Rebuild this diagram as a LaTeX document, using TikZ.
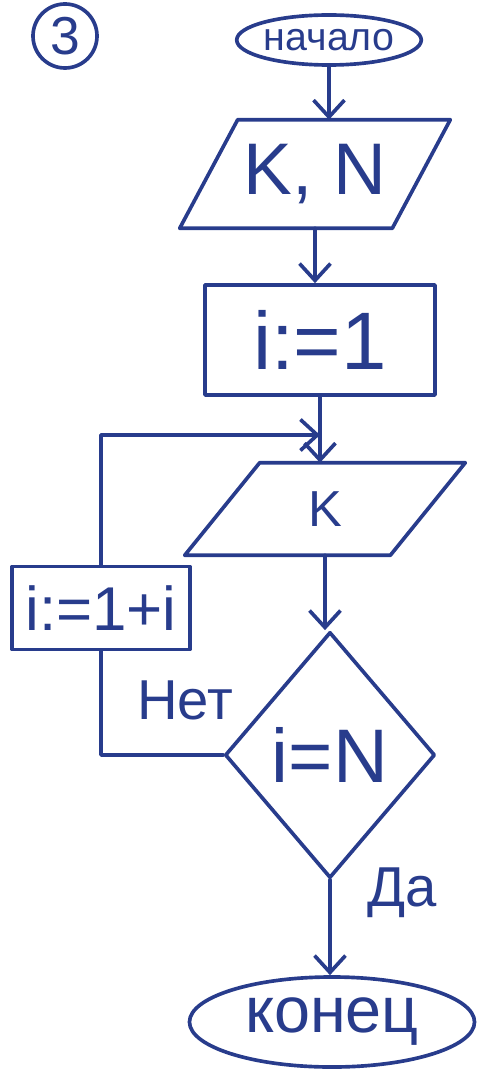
\documentclass[tikz,border=0pt]{standalone}
\usepackage{fontspec}
\setmainfont{Liberation Sans}
\usetikzlibrary{shapes.geometric,arrows.meta,calc}
\definecolor{ink}{RGB}{40,60,140}
\newcommand\hfs[1]{\fontsize{#1}{#1}\selectfont}
\begin{document}
\begin{tikzpicture}[x=0.025cm,y=-0.025cm,
  every node/.style={text=ink,inner sep=0pt},
  ln/.style={draw=ink,line width=2.6pt,line cap=round,line join=round},
  arr/.style={ln,-{Straight Barb[length=12pt,width=22pt,line width=2.6pt]}},
  term/.style={ellipse,ln},
  procbox/.style={rectangle,ln},
  iobox/.style={rectangle,draw=none},
  decide/.style={diamond,ln},
  lbl/.style={text=ink}
]
\useasboundingbox (0,0) rectangle (476,1070);

% number
\node[circle,ln,minimum size=1.6cm,font=\hfs{38}] (num) at (65,36) {3};

% start
\node[term,minimum width=4.05cm,minimum height=1.25cm,font=\hfs{28}] (start) at (329,40) {начало};

% input K, N
\node[iobox,minimum width=6.75cm,minimum height=2.7cm,font=\hfs{52}] (kn) at (315,174) {K, N};
\draw[ln] ($(kn.north west)+(58,0)$) -- (kn.north east) -- ($(kn.south east)+(-58,0)$) -- (kn.south west) -- cycle;

% i:=1
\node[procbox,minimum width=5.75cm,minimum height=2.75cm,font=\hfs{58}] (init) at (320,340) {i:=1};

% input K
\node[iobox,minimum width=7cm,minimum height=2.3cm,font=\hfs{36}] (k) at (325,509) {K};
\draw[ln] ($(k.north west)+(75,0)$) -- (k.north east) -- ($(k.south east)+(-75,0)$) -- (k.south west) -- cycle;

% i:=1+i
\node[procbox,minimum width=4.45cm,minimum height=2.075cm,font=\hfs{44}] (inc) at (101,608) {i:=1+i};

% condition
\node[decide,minimum width=5.25cm,minimum height=6.15cm,font=\hfs{54}] (cond) at (330,755) {i=N};

% end
\node[term,minimum width=7.125cm,minimum height=2.25cm,font=\hfs{46}] (stop) at (332,1022) {конец};

% labels
\node[lbl,font=\hfs{40}] (net) at (185,700) {Нет};
\node[lbl,font=\hfs{40}] (da) at (402,893) {Да};

% connectors
\coordinate (merge) at (init.south |- 0,435);
\draw[arr] (start.south) -- (start.south |- kn.north);
\draw[arr] (kn.south) -- (kn.south |- init.north);
\draw[arr] (init.south) -- (init.south |- k.north);
\draw[arr] (k.south) -- (k.south |- cond.north);
\draw[arr] (cond.south) -- (cond.south |- stop.north);
\draw[ln] (cond.west) -| (inc.south);
\draw[arr] (inc.north) |- (merge);
\end{tikzpicture}
\end{document}
